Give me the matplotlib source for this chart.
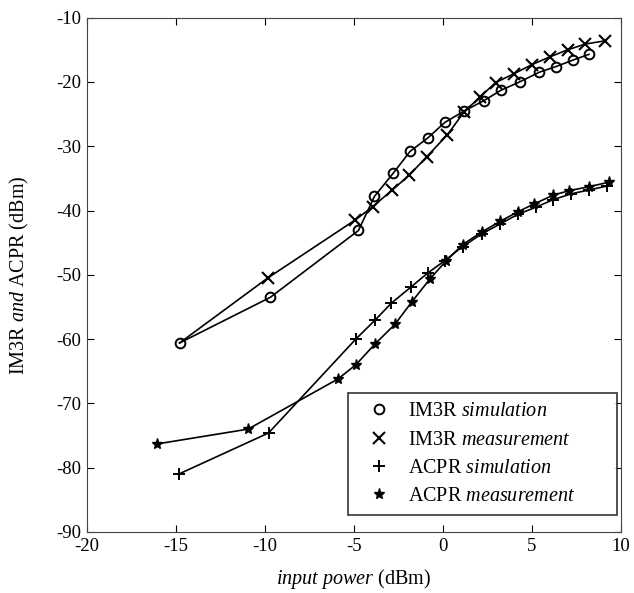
import matplotlib.pyplot as plt
import numpy as np

plt.rcParams["font.family"] = "Liberation Serif"
plt.rcParams["mathtext.fontset"] = "custom"
plt.rcParams["mathtext.rm"] = "Liberation Serif"
plt.rcParams["mathtext.it"] = "Liberation Serif:italic"
plt.rcParams["axes.unicode_minus"] = False

# IM3R simulation (circles)
im3_sim_x = [-14.8, -9.7, -4.75, -3.85, -2.8, -1.85, -0.85, 0.1, 1.2, 2.3, 3.25, 4.3, 5.4, 6.35, 7.3, 8.2]
im3_sim_y = [-60.6, -53.5, -43.1, -37.8, -34.2, -30.8, -28.7, -26.3, -24.5, -22.9, -21.3, -20.0, -18.5, -17.6, -16.6, -15.7]

# IM3R measurement (x), first point shares the lowest circle
im3_meas_x = [-14.8, -9.85, -4.95, -3.95, -2.85, -1.9, -0.9, 0.25, 1.2, 2.1, 2.95, 4.0, 5.0, 6.0, 7.0, 8.0, 9.1]
im3_meas_y = [-60.6, -50.5, -41.5, -39.4, -36.8, -34.5, -31.6, -28.2, -24.6, -22.3, -20.1, -18.7, -17.3, -16.1, -15.0, -14.1, -13.6]

# ACPR simulation (+)
acpr_sim_x = [-14.85, -9.8, -4.9, -3.8, -2.9, -1.8, -0.85, 0.1, 1.1, 2.2, 3.2, 4.2, 5.2, 6.2, 7.2, 8.2, 9.2]
acpr_sim_y = [-81.0, -74.6, -60.0, -57.0, -54.4, -51.9, -49.7, -47.8, -45.6, -43.6, -42.1, -40.6, -39.5, -38.3, -37.4, -36.8, -36.2]

# ACPR measurement (*)
acpr_meas_x = [-16.05, -10.95, -5.9, -4.9, -3.8, -2.7, -1.75, -0.75, 0.15, 1.1, 2.2, 3.2, 4.2, 5.1, 6.2, 7.1, 8.2, 9.3]
acpr_meas_y = [-76.3, -74.0, -66.2, -64.0, -60.7, -57.7, -54.2, -50.7, -47.9, -45.3, -43.3, -41.7, -40.2, -39.0, -37.6, -36.9, -36.3, -35.6]

fig = plt.figure(figsize=(6.34, 5.93), dpi=100)
ax = fig.add_axes([0.1372, 0.1029, 0.8423, 0.8673])

lw = 1.2
ax.plot(im3_sim_x, im3_sim_y, "-k", lw=lw, marker="o", mfc="none", mec="k",
        ms=7, mew=1.4, label=r"IM3R $\mathit{simulation}$")
ax.plot(im3_meas_x, im3_meas_y, "-k", lw=lw, marker="x", ms=8.5, mew=1.5,
        markevery=list(range(1, len(im3_meas_x))), label=r"IM3R $\mathit{measurement}$")
ax.plot(acpr_sim_x, acpr_sim_y, "-k", lw=lw, marker="+", ms=9, mew=1.4,
        label=r"ACPR $\mathit{simulation}$")
ax.plot(acpr_meas_x, acpr_meas_y, "-k", lw=lw, marker="*", ms=8, mew=1.0,
        label=r"ACPR $\mathit{measurement}$")

ax.set_xlim(-20, 10)
ax.set_ylim(-90, -10)
ax.set_xticks(np.arange(-20, 11, 5))
ax.set_yticks(np.arange(-90, -9, 10))
ax.tick_params(direction="in", top=True, right=True, labelsize=13.5, pad=4, length=5)
for s in ax.spines.values():
    s.set_color("#444444")

ax.set_xlabel(r"$\mathit{input\ power}$ (dBm)", fontsize=14.5, labelpad=9)
ax.set_ylabel(r"IM3R $\mathit{and}$ ACPR (dBm)", fontsize=14.5, labelpad=18)

leg = ax.legend(loc="lower left", bbox_to_anchor=(0.489, 0.033, 0.5035, 0.237),
                mode="expand", borderaxespad=0, fontsize=14.5, frameon=True,
                fancybox=False, edgecolor="k", handlelength=2.2, handletextpad=0.3,
                borderpad=0.45, labelspacing=0.45)
for h in leg.legend_handles:
    h.set_linestyle("none")
leg.get_frame().set_linewidth(1.2)

fig.savefig("out.png", dpi=100)
